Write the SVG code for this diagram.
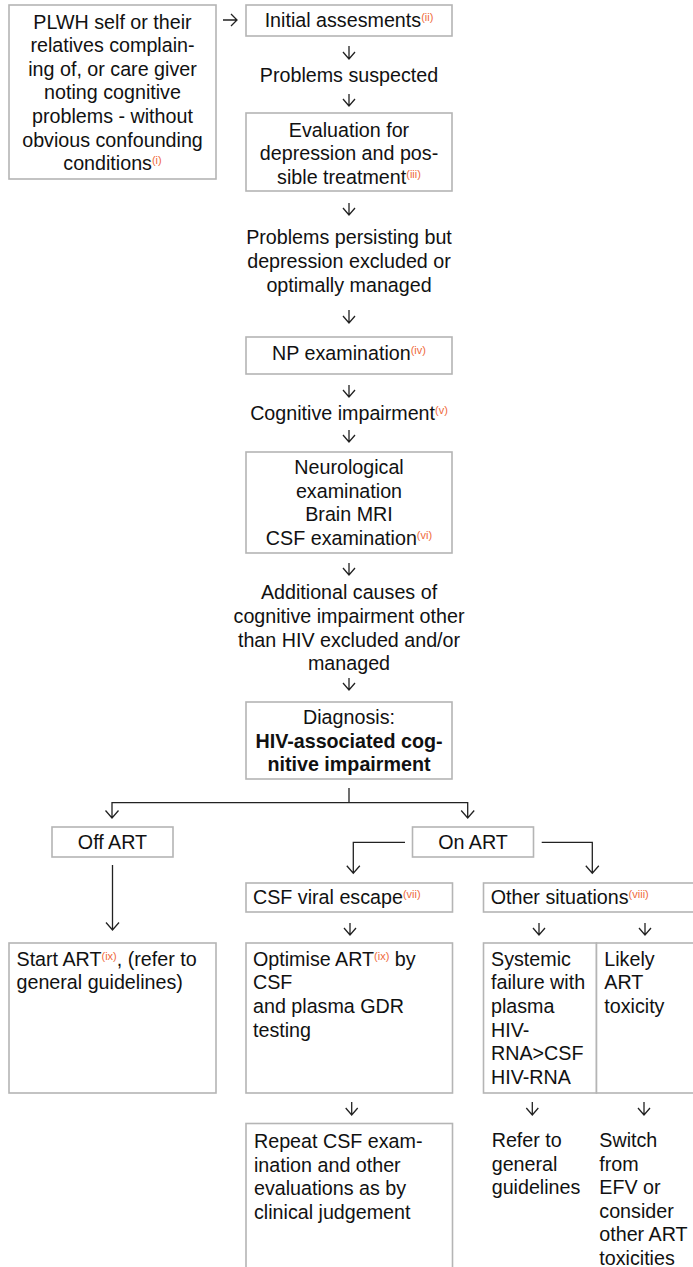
<svg xmlns="http://www.w3.org/2000/svg" width="693" height="1267" viewBox="0 0 693 1267">
<style>
.box{fill:#fff;stroke:#b5b5b5;stroke-width:1.6}
.t{font-family:"Liberation Sans",Arial,sans-serif;font-size:19.7px;fill:#111}
.c{text-anchor:middle}
.b{font-weight:bold}
.sup{font-size:11px;fill:#EF6A3C}
.con{fill:none;stroke:#222;stroke-width:1.3}
</style>
<rect width="693" height="1267" fill="#fff"/>
<g id="connectors" class="con">
<path d="M223 20H237M231 14L237 20L231 26"/>
<path d="M349 46V59M343 52L349 59L355 52"/>
<path d="M349 94V106M343 99L349 106L355 99"/>
<path d="M349 203V215M343 208L349 215L355 208"/>
<path d="M349 310V323M343 316L349 323L355 316"/>
<path d="M349 385V397M343 390L349 397L355 390"/>
<path d="M349 430V442M343 435L349 442L355 435"/>
<path d="M349 563V575M343 568L349 575L355 568"/>
<path d="M349 678V690M343 683L349 690L355 683"/>
<path d="M349 788V802.7M112 818V802.7H467.7V818M105.5 810.5L112 818L118.5 810.5M461.2 810.5L467.7 818L474.2 810.5"/>
<path d="M112.5 865V930M106 922.5L112.5 930L119 922.5"/>
<path d="M405 842.3H353.3V873.3M346.8 865.8L353.3 873.3L359.8 865.8"/>
<path d="M541.7 842.3H592.3V873.3M585.8 865.8L592.3 873.3L598.8 865.8"/>
<path d="M350 923V935M344 928L350 935L356 928"/>
<path d="M539 923V935M533 928L539 935L545 928"/>
<path d="M645 923V935M639 928L645 935L651 928"/>
<path d="M351.7 1102V1115M345.7 1108L351.7 1115L357.7 1108"/>
<path d="M532.3 1102V1115M526.3 1108L532.3 1115L538.3 1108"/>
<path d="M644 1102V1115M638 1108L644 1115L650 1108"/>
</g>
<g id="n-plwh">
<rect class="box" x="9" y="5" width="207" height="174"/>
<text class="t c" x="112.5" y="28.5">PLWH self or their</text>
<text class="t c" x="112.5" y="52.1">relatives complain-</text>
<text class="t c" x="112.5" y="75.7">ing of, or care giver</text>
<text class="t c" x="112.5" y="99.3">noting cognitive</text>
<text class="t c" x="112.5" y="122.9">problems - without</text>
<text class="t c" x="112.5" y="146.5">obvious confounding</text>
<text class="t c" x="112.5" y="170.1">conditions<tspan class="sup" dy="-6">(i)</tspan></text>
</g>
<g id="n-initial">
<rect class="box" x="246" y="5" width="206" height="31"/>
<text class="t c" x="349" y="27">Initial assesments<tspan class="sup" dy="-6">(ii)</tspan></text>
</g>
<g id="n-suspected">
<text class="t c" x="349" y="82">Problems suspected</text>
</g>
<g id="n-depression">
<rect class="box" x="246" y="113" width="206" height="78"/>
<text class="t c" x="349" y="136.7">Evaluation for</text>
<text class="t c" x="349" y="160.3">depression and pos-</text>
<text class="t c" x="349" y="183.9">sible treatment<tspan class="sup" dy="-6">(iii)</tspan></text>
</g>
<g id="n-persisting">
<text class="t c" x="349" y="244.3">Problems persisting but</text>
<text class="t c" x="349" y="267.9">depression excluded or</text>
<text class="t c" x="349" y="291.5">optimally managed</text>
</g>
<g id="n-np">
<rect class="box" x="246" y="337" width="206" height="37"/>
<text class="t c" x="349" y="360">NP examination<tspan class="sup" dy="-6">(iv)</tspan></text>
</g>
<g id="n-cognitive">
<text class="t c" x="349" y="420">Cognitive impairment<tspan class="sup" dy="-6">(v)</tspan></text>
</g>
<g id="n-neuro">
<rect class="box" x="246" y="452" width="206" height="101"/>
<text class="t c" x="349" y="474">Neurological</text>
<text class="t c" x="349" y="497.6">examination</text>
<text class="t c" x="349" y="521.2">Brain MRI</text>
<text class="t c" x="349" y="544.8">CSF examination<tspan class="sup" dy="-6">(vi)</tspan></text>
</g>
<g id="n-additional">
<text class="t c" x="349" y="599.3">Additional causes of</text>
<text class="t c" x="349" y="622.9">cognitive impairment other</text>
<text class="t c" x="349" y="646.5">than HIV excluded and/or</text>
<text class="t c" x="349" y="670.1">managed</text>
</g>
<g id="n-diagnosis">
<rect class="box" x="246" y="702" width="206" height="77"/>
<text class="t c" x="349" y="724">Diagnosis:</text>
<text class="t c b" x="349" y="747.6">HIV-associated cog-</text>
<text class="t c b" x="349" y="771.2">nitive impairment</text>
</g>
<g id="n-offart">
<rect class="box" x="52" y="827" width="121" height="30"/>
<text class="t c" x="112.5" y="849">Off ART</text>
</g>
<g id="n-onart">
<rect class="box" x="412.5" y="827" width="121" height="30"/>
<text class="t c" x="473" y="849">On ART</text>
</g>
<g id="n-startart">
<rect class="box" x="9" y="943" width="207" height="150"/>
<text class="t" x="16.5" y="965.7">Start ART<tspan class="sup" dy="-6">(ix)</tspan><tspan dy="6">, (refer to</tspan></text>
<text class="t" x="16.5" y="989.3">general guidelines)</text>
</g>
<g id="n-csfescape">
<rect class="box" x="246" y="883" width="206.5" height="29"/>
<text class="t" x="253" y="904">CSF viral escape<tspan class="sup" dy="-6">(vii)</tspan></text>
</g>
<g id="n-other">
<rect class="box" x="483.5" y="883" width="215" height="29"/>
<text class="t" x="490.7" y="904">Other situations<tspan class="sup" dy="-6">(viii)</tspan></text>
</g>
<g id="n-optimise">
<rect class="box" x="246" y="943" width="206.5" height="150"/>
<text class="t" x="253" y="965.7">Optimise ART<tspan class="sup" dy="-6">(ix)</tspan><tspan dy="6"> by</tspan></text>
<text class="t" x="253" y="989.3">CSF</text>
<text class="t" x="253" y="1012.9">and plasma GDR</text>
<text class="t" x="253" y="1036.5">testing</text>
</g>
<g id="n-systemic">
<rect class="box" x="483.5" y="943" width="113" height="150"/>
<text class="t" x="491" y="965.7">Systemic</text>
<text class="t" x="491" y="989.3">failure with</text>
<text class="t" x="491" y="1012.9">plasma</text>
<text class="t" x="491" y="1036.5">HIV-</text>
<text class="t" x="491" y="1060.1">RNA&gt;CSF</text>
<text class="t" x="491" y="1083.7">HIV-RNA</text>
</g>
<g id="n-toxicity">
<rect class="box" x="596.5" y="943" width="110" height="150"/>
<text class="t" x="604.3" y="965.7">Likely</text>
<text class="t" x="604.3" y="989.3">ART</text>
<text class="t" x="604.3" y="1012.9">toxicity</text>
</g>
<g id="n-repeat">
<rect class="box" x="246" y="1123.5" width="206.5" height="160"/>
<text class="t" x="254" y="1148">Repeat CSF exam-</text>
<text class="t" x="254" y="1171.6">ination and other</text>
<text class="t" x="254" y="1195.2">evaluations as by</text>
<text class="t" x="254" y="1218.8">clinical judgement</text>
</g>
<g id="n-refer">
<text class="t" x="491.7" y="1147">Refer to</text>
<text class="t" x="491.7" y="1170.6">general</text>
<text class="t" x="491.7" y="1194.2">guidelines</text>
</g>
<g id="n-switch">
<text class="t" x="599.3" y="1147">Switch</text>
<text class="t" x="599.3" y="1170.6">from</text>
<text class="t" x="599.3" y="1194.2">EFV or</text>
<text class="t" x="599.3" y="1217.8">consider</text>
<text class="t" x="599.3" y="1241.4">other ART</text>
<text class="t" x="599.3" y="1265">toxicities</text>
</g>
</svg>
